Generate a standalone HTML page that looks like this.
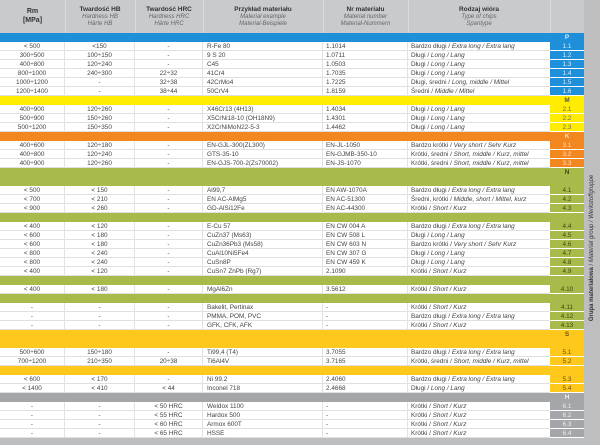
<!DOCTYPE html>
<html><head><meta charset="utf-8"><style>
*{margin:0;padding:0;box-sizing:border-box}
body{width:600px;height:445px;background:#bdbec0;font-family:"Liberation Sans",sans-serif;position:relative;overflow:hidden;color:#444}
.hd{position:absolute;top:0;left:0;width:584px;height:33px;background:#c9cacc}
.hc{position:absolute;top:6px;text-align:center;font-size:6px;line-height:7px;color:#555}
.hc b{color:#333;font-size:6.5px}
.hc i{color:#666}
.vl{position:absolute;top:0;height:33px;width:1px;background:#dadadc}
.r{position:absolute;left:0;width:584px;height:9px;font-size:6.4px;line-height:9px}
.r div{position:absolute;top:0;height:9px;white-space:nowrap}
.d{background:#fff;border-bottom:1px solid #e0e0e0}
.d .c1{left:0;width:65px;text-align:center;border-right:1px solid #e2e2e2}
.d .c2{left:65px;width:70px;text-align:center;border-right:1px solid #e2e2e2}
.d .c3{left:135px;width:68px;text-align:center;border-right:1px solid #e2e2e2}
.d .c4{left:203px;width:120px;padding-left:4px;border-right:1px solid #e2e2e2}
.d .c5{left:323px;width:85px;padding-left:3px;border-right:1px solid #e2e2e2}
.d .c6{left:408px;width:142px;padding-left:3px}
.k{left:550px;width:34px;text-align:center;border-bottom:1px solid #fff}
.bar .k{font-weight:bold;border:none}
.P{background:#1e8fd8}.P .k{color:#d8ecff}
.M{background:#ffec00}.M .k{color:#555}
.K{background:#f2861f}.K .k{color:#fde2c8}
.N{background:#a7ba4a}.N .k{color:#3f4a12}
.S{background:#ffc81c}.S .k{color:#665010}
.H{background:#a4a6a9}.H .k{color:#f0f0f0}
.kP{background:#1e8fd8;color:#d8ecff}
.kM{background:#ffec00;color:#666}
.kK{background:#f2861f;color:#fde2c8}
.kN{background:#a7ba4a;color:#3f4a12}
.kS{background:#ffc81c;color:#665010}
.kH{background:#a4a6a9;color:#eee}
i{font-style:italic}
.rot{position:absolute;left:592px;top:248px;transform:translate(-50%,-50%) rotate(-90deg);font-size:6px;white-space:nowrap;color:#333}
</style></head><body>
<div class="hd"></div>
<div class="vl" style="left:65px"></div><div class="vl" style="left:135px"></div><div class="vl" style="left:203px"></div><div class="vl" style="left:323px"></div><div class="vl" style="left:408px"></div><div class="vl" style="left:550px"></div>
<div class="hc" style="left:0;width:65px;top:7px;font-size:7px;line-height:9px;color:#333"><b style="font-size:7px">Rm<br>[MPa]</b></div>
<div class="hc" style="left:65px;width:70px"><b>Twardość HB</b><br><i>Hardness HB<br>Härte HB</i></div>
<div class="hc" style="left:135px;width:68px"><b>Twardość HRC</b><br><i>Hardness HRC<br>Härte HRC</i></div>
<div class="hc" style="left:203px;width:120px"><b>Przykład materiału</b><br><i>Material example<br>Material-Beispiele</i></div>
<div class="hc" style="left:323px;width:85px"><b>Nr materiału</b><br><i>Material number<br>Material-Nummern</i></div>
<div class="hc" style="left:408px;width:142px"><b>Rodzaj wióra</b><br><i>Type of chips<br>Spantype</i></div>

<div class="r bar P" style="top:33px"><div class="k">P</div></div>
<div class="r d" style="top:42px"><div class="c1">&lt; 500</div><div class="c2">&lt;150</div><div class="c3">-</div><div class="c4">R-Fe 80</div><div class="c5">1.1014</div><div class="c6">Bardzo długi / <i>Extra long / Extra lang</i></div><div class="k kP">1.1</div></div>
<div class="r d" style="top:51px"><div class="c1">300÷500</div><div class="c2">100÷150</div><div class="c3">-</div><div class="c4">9 S 20</div><div class="c5">1.0711</div><div class="c6">Długi / <i>Long / Lang</i></div><div class="k kP">1.2</div></div>
<div class="r d" style="top:60px"><div class="c1">400÷800</div><div class="c2">120÷240</div><div class="c3">-</div><div class="c4">C45</div><div class="c5">1.0503</div><div class="c6">Długi / <i>Long / Lang</i></div><div class="k kP">1.3</div></div>
<div class="r d" style="top:69px"><div class="c1">800÷1000</div><div class="c2">240÷300</div><div class="c3">22÷32</div><div class="c4">41Cr4</div><div class="c5">1.7035</div><div class="c6">Długi / <i>Long / Lang</i></div><div class="k kP">1.4</div></div>
<div class="r d" style="top:78px"><div class="c1">1000÷1200</div><div class="c2">-</div><div class="c3">32÷38</div><div class="c4">42CrMo4</div><div class="c5">1.7225</div><div class="c6">Długi, średni / <i>Long, middle / Mittel</i></div><div class="k kP">1.5</div></div>
<div class="r d" style="top:87px"><div class="c1">1200÷1400</div><div class="c2">-</div><div class="c3">38÷44</div><div class="c4">50CrV4</div><div class="c5">1.8159</div><div class="c6">Średni / <i>Middle / Mittel</i></div><div class="k kP">1.6</div></div>

<div class="r bar M" style="top:96px"><div class="k">M</div></div>
<div class="r d" style="top:105px"><div class="c1">400÷900</div><div class="c2">120÷260</div><div class="c3">-</div><div class="c4">X46Cr13 (4H13)</div><div class="c5">1.4034</div><div class="c6">Długi / <i>Long / Lang</i></div><div class="k kM">2.1</div></div>
<div class="r d" style="top:114px"><div class="c1">500÷900</div><div class="c2">150÷260</div><div class="c3">-</div><div class="c4">X5CrNi18-10 (OH18N9)</div><div class="c5">1.4301</div><div class="c6">Długi / <i>Long / Lang</i></div><div class="k kM">2.2</div></div>
<div class="r d" style="top:123px"><div class="c1">500÷1200</div><div class="c2">150÷350</div><div class="c3">-</div><div class="c4">X2CrNiMoN22-5-3</div><div class="c5">1.4462</div><div class="c6">Długi / <i>Long / Lang</i></div><div class="k kM">2.3</div></div>

<div class="r bar K" style="top:132px"><div class="k">K</div></div>
<div class="r d" style="top:141px"><div class="c1">400÷600</div><div class="c2">120÷180</div><div class="c3">-</div><div class="c4">EN-GJL-300(ZL300)</div><div class="c5">EN-JL-1050</div><div class="c6">Bardzo krótki / <i>Very short / Sehr Kurz</i></div><div class="k kK">3.1</div></div>
<div class="r d" style="top:150px"><div class="c1">400÷800</div><div class="c2">120÷240</div><div class="c3">-</div><div class="c4">GTS-35-10</div><div class="c5">EN-GJMB-350-10</div><div class="c6">Krótki, średni / <i>Short, middle / Kurz, mittel</i></div><div class="k kK">3.2</div></div>
<div class="r d" style="top:159px"><div class="c1">400÷900</div><div class="c2">120÷260</div><div class="c3">-</div><div class="c4">EN-GJS-700-2(Zs70002)</div><div class="c5">EN-JS-1070</div><div class="c6">Krótki, średni / <i>Short, middle / Kurz, mittel</i></div><div class="k kK">3.3</div></div>

<div class="r bar N" style="top:168px"><div class="k">N</div></div>
<div class="r bar N" style="top:177px"></div>
<div class="r d" style="top:186px"><div class="c1">&lt; 500</div><div class="c2">&lt; 150</div><div class="c3">-</div><div class="c4">Al99,7</div><div class="c5">EN AW-1070A</div><div class="c6">Bardzo długi / <i>Extra long / Extra lang</i></div><div class="k kN">4.1</div></div>
<div class="r d" style="top:195px"><div class="c1">&lt; 700</div><div class="c2">&lt; 210</div><div class="c3">-</div><div class="c4">EN AC-AlMg5</div><div class="c5">EN AC-51300</div><div class="c6">Średni, krótki / <i>Middle, short / Mittel, kurz</i></div><div class="k kN">4.2</div></div>
<div class="r d" style="top:204px"><div class="c1">&lt; 900</div><div class="c2">&lt; 260</div><div class="c3">-</div><div class="c4">GD-AlSi12Fe</div><div class="c5">EN AC-44300</div><div class="c6">Krótki / <i>Short / Kurz</i></div><div class="k kN">4.3</div></div>
<div class="r bar N" style="top:213px"></div>
<div class="r d" style="top:222px"><div class="c1">&lt; 400</div><div class="c2">&lt; 120</div><div class="c3">-</div><div class="c4">E-Cu 57</div><div class="c5">EN CW 004 A</div><div class="c6">Bardzo długi / <i>Extra long / Extra lang</i></div><div class="k kN">4.4</div></div>
<div class="r d" style="top:231px"><div class="c1">&lt; 600</div><div class="c2">&lt; 180</div><div class="c3">-</div><div class="c4">CuZn37 (Ms63)</div><div class="c5">EN CW 508 L</div><div class="c6">Długi / <i>Long / Lang</i></div><div class="k kN">4.5</div></div>
<div class="r d" style="top:240px"><div class="c1">&lt; 600</div><div class="c2">&lt; 180</div><div class="c3">-</div><div class="c4">CuZn36Pb3 (Ms58)</div><div class="c5">EN CW 603 N</div><div class="c6">Bardzo krótki / <i>Very short / Sehr Kurz</i></div><div class="k kN">4.6</div></div>
<div class="r d" style="top:249px"><div class="c1">&lt; 800</div><div class="c2">&lt; 240</div><div class="c3">-</div><div class="c4">CuAl10Ni5Fe4</div><div class="c5">EN CW 307 G</div><div class="c6">Długi / <i>Long / Lang</i></div><div class="k kN">4.7</div></div>
<div class="r d" style="top:258px"><div class="c1">&lt; 800</div><div class="c2">&lt; 240</div><div class="c3">-</div><div class="c4">CuSn8P</div><div class="c5">EN CW 459 K</div><div class="c6">Długi / <i>Long / Lang</i></div><div class="k kN">4.8</div></div>
<div class="r d" style="top:267px"><div class="c1">&lt; 400</div><div class="c2">&lt; 120</div><div class="c3">-</div><div class="c4">CuSn7 ZnPb (Rg7)</div><div class="c5">2.1090</div><div class="c6">Krótki / <i>Short / Kurz</i></div><div class="k kN">4.9</div></div>
<div class="r bar N" style="top:276px"></div>
<div class="r d" style="top:285px"><div class="c1">&lt; 400</div><div class="c2">&lt; 180</div><div class="c3">-</div><div class="c4">MgAl6Zn</div><div class="c5">3.5612</div><div class="c6">Krótki / <i>Short / Kurz</i></div><div class="k kN">4.10</div></div>
<div class="r bar N" style="top:294px"></div>
<div class="r d" style="top:303px"><div class="c1">-</div><div class="c2">-</div><div class="c3">-</div><div class="c4">Bakelit, Pertinax</div><div class="c5">-</div><div class="c6">Krótki / <i>Short / Kurz</i></div><div class="k kN">4.11</div></div>
<div class="r d" style="top:312px"><div class="c1">-</div><div class="c2">-</div><div class="c3">-</div><div class="c4">PMMA, POM, PVC</div><div class="c5">-</div><div class="c6">Bardzo długi / <i>Extra long / Extra lang</i></div><div class="k kN">4.12</div></div>
<div class="r d" style="top:321px"><div class="c1">-</div><div class="c2">-</div><div class="c3">-</div><div class="c4">GFK, CFK, AFK</div><div class="c5">-</div><div class="c6">Krótki / <i>Short / Kurz</i></div><div class="k kN">4.13</div></div>

<div class="r bar S" style="top:330px"><div class="k">S</div></div>
<div class="r bar S" style="top:339px"></div>
<div class="r d" style="top:348px"><div class="c1">500÷600</div><div class="c2">150÷180</div><div class="c3">-</div><div class="c4">Ti99,4 (T4)</div><div class="c5">3.7055</div><div class="c6">Bardzo długi / <i>Extra long / Extra lang</i></div><div class="k kS">5.1</div></div>
<div class="r d" style="top:357px"><div class="c1">700÷1200</div><div class="c2">210÷350</div><div class="c3">20÷38</div><div class="c4">Ti6Al4V</div><div class="c5">3.7165</div><div class="c6">Krótki, średni / <i>Short, middle / Kurz, mittel</i></div><div class="k kS">5.2</div></div>
<div class="r bar S" style="top:366px"></div>
<div class="r d" style="top:375px"><div class="c1">&lt; 600</div><div class="c2">&lt; 170</div><div class="c3">-</div><div class="c4">Ni 99.2</div><div class="c5">2.4060</div><div class="c6">Bardzo długi / <i>Extra long / Extra lang</i></div><div class="k kS">5.3</div></div>
<div class="r d" style="top:384px"><div class="c1">&lt; 1400</div><div class="c2">&lt; 410</div><div class="c3">&lt; 44</div><div class="c4">Inconel 718</div><div class="c5">2.4668</div><div class="c6">Długi / <i>Long / Lang</i></div><div class="k kS">5.4</div></div>

<div class="r bar H" style="top:393px"><div class="k">H</div></div>
<div class="r d" style="top:402px"><div class="c1">-</div><div class="c2">-</div><div class="c3">&lt; 50 HRC</div><div class="c4">Weldox 1100</div><div class="c5">-</div><div class="c6">Krótki / <i>Short / Kurz</i></div><div class="k kH">6.1</div></div>
<div class="r d" style="top:411px"><div class="c1">-</div><div class="c2">-</div><div class="c3">&lt; 55 HRC</div><div class="c4">Hardox 500</div><div class="c5">-</div><div class="c6">Krótki / <i>Short / Kurz</i></div><div class="k kH">6.2</div></div>
<div class="r d" style="top:420px"><div class="c1">-</div><div class="c2">-</div><div class="c3">&lt; 60 HRC</div><div class="c4">Armox 600T</div><div class="c5">-</div><div class="c6">Krótki / <i>Short / Kurz</i></div><div class="k kH">6.3</div></div>
<div class="r d" style="top:429px"><div class="c1">-</div><div class="c2">-</div><div class="c3">&lt; 65 HRC</div><div class="c4">HSSE</div><div class="c5">-</div><div class="c6">Krótki / <i>Short / Kurz</i></div><div class="k kH">6.4</div></div>

<div class="rot"><b>Grupa materiałowa</b> / <i>Material group / Werkstoffgruppe</i></div>
</body></html>
